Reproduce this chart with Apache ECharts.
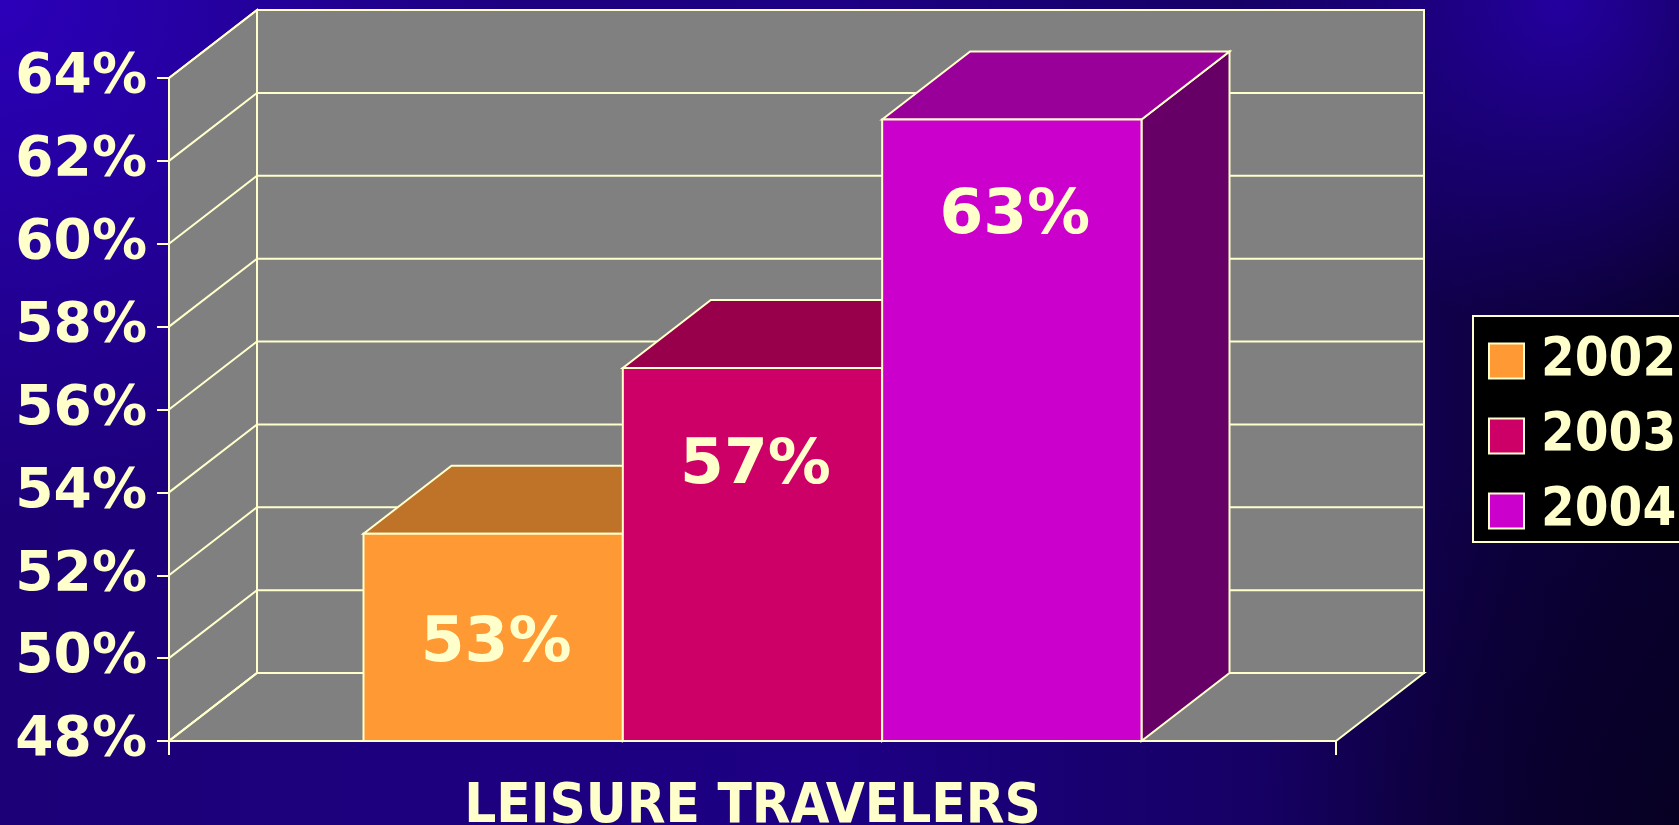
<!DOCTYPE html>
<html>
<head>
<meta charset="utf-8">
<script src="https://cdn.jsdelivr.net/npm/echarts@6/dist/echarts.min.js"></script>
<style>
html,body{margin:0;padding:0;width:1679px;height:825px;overflow:hidden;background:#1a0080;}
#chart{width:1679px;height:825px;}
</style>
</head>
<body>
<div id="chart"></div>
<script>
// ---- data ----
const categories = ['LEISURE TRAVELERS'];
const seriesNames = ['2002', '2003', '2004'];
const values2002 = [53];
const values2003 = [57];
const values2004 = [63];
const yTicks = [48, 50, 52, 54, 56, 58, 60, 62, 64];
const yMin = 48, yMax = 64, yStep = 2;

// ---- style ----
const CREAM = '#FFFFCC';
const GREY = '#808080';
const FRONT = ['#FF9933', '#CC0066', '#CC00CC'];
const TOP = ['#BF7328', '#99004C', '#990099'];
const SIDE = ['#804C1A', '#660033', '#660066'];
const LABEL_DY = [111, 99, 97];   // label offset below bar top (px)
const DX = 88, DY = -68;   // depth offset of the 3D box
const FONT = '"DejaVu Sans", Verdana, sans-serif';
const FONT_C = '"DejaVu Sans Condensed", "DejaVu Sans", sans-serif';
const lineStyle = { stroke: CREAM, lineWidth: 2 };

const seriesValues = [values2002, values2003, values2004];

function wallsRender(params, api) {
  const cs = params.coordSys;
  const x0 = cs.x, x1 = cs.x + cs.width;
  const yT = api.coord([0, yMax])[1];
  const yB = api.coord([0, yMin])[1];
  const fillStyle = Object.assign({ fill: GREY }, lineStyle);
  return {
    type: 'group',
    children: [
      { type: 'polygon', shape: { points: [[x0, yT], [x0 + DX, yT + DY], [x0 + DX, yB + DY], [x0, yB]] }, style: fillStyle },
      { type: 'polygon', shape: { points: [[x0 + DX, yT + DY], [x1 + DX, yT + DY], [x1 + DX, yB + DY], [x0 + DX, yB + DY]] }, style: fillStyle },
      { type: 'polygon', shape: { points: [[x0, yB], [x1, yB], [x1 + DX, yB + DY], [x0 + DX, yB + DY]] }, style: fillStyle }
    ]
  };
}

function gridRender(params, api) {
  const cs = params.coordSys;
  const x0 = cs.x, x1 = cs.x + cs.width;
  const y = api.coord([0, api.value(1)])[1];
  return {
    type: 'polyline',
    shape: { points: [[x0, y], [x0 + DX, y + DY], [x1 + DX, y + DY]] },
    style: Object.assign({ fill: null }, lineStyle)
  };
}

function makeBarRender(i) {
  return function (params, api) {
    const top = api.coord([api.value(0), api.value(1)]);
    const base = api.coord([api.value(0), yMin]);
    const band = api.size([1, 0])[0];
    const w = band / 4.5;
    const xl = top[0] - 1.5 * w + i * w;
    const xr = xl + w;
    const yt = top[1], yb = base[1];
    return {
      type: 'group',
      children: [
        { type: 'polygon', shape: { points: [[xr, yt], [xr + DX, yt + DY], [xr + DX, yb + DY], [xr, yb]] },
          style: Object.assign({ fill: SIDE[i] }, lineStyle) },
        { type: 'polygon', shape: { points: [[xl, yt], [xr, yt], [xr + DX, yt + DY], [xl + DX, yt + DY]] },
          style: Object.assign({ fill: TOP[i] }, lineStyle) },
        { type: 'rect', shape: { x: xl, y: yt, width: w, height: yb - yt },
          style: Object.assign({ fill: FRONT[i] }, lineStyle) },
        { type: 'text', style: { text: api.value(1) + '%', x: xl + w / 2 + 3, y: yt + LABEL_DY[i],
          align: 'center', verticalAlign: 'middle', fill: CREAM,
          fontSize: 63, fontWeight: 'bold', fontFamily: FONT } }
      ]
    };
  };
}

const series = [
  { name: 'walls', type: 'custom', renderItem: wallsRender, data: [[0, yMin]], z: 1, silent: true, clip: false },
  { name: 'gridlines', type: 'custom', renderItem: gridRender, data: yTicks.map(v => [0, v]), z: 2, silent: true, clip: false }
];
seriesNames.forEach((name, i) => {
  series.push({
    name: name, type: 'custom', renderItem: makeBarRender(i),
    data: seriesValues[i].map((v, k) => [k, v]),
    itemStyle: { color: FRONT[i] },
    z: 3 + i, clip: false
  });
});

const chart = echarts.init(document.getElementById('chart'));
chart.setOption({
  animation: false,
  backgroundColor: {
    type: 'linear', x: 0, y: 0, x2: 1, y2: 0,
    colorStops: [
      { offset: 0, color: '#1C0078' },
      { offset: 0.5, color: '#1D0084' },
      { offset: 0.78, color: '#150060' },
      { offset: 0.9, color: '#0E0040' },
      { offset: 1, color: '#0A0030' }
    ]
  },
  graphic: {
    elements: [
      { type: 'rect', z: -100, silent: true, shape: { x: 0, y: 0, width: 1679, height: 825 },
        style: { fill: { type: 'radial', x: 0, y: 0, r: 520, global: true,
          colorStops: [{ offset: 0, color: 'rgba(44,0,186,1)' }, { offset: 1, color: 'rgba(44,0,186,0)' }] } } },
      { type: 'rect', z: -100, silent: true, shape: { x: 0, y: 0, width: 1679, height: 825 },
        style: { fill: { type: 'radial', x: 1560, y: 0, r: 330, global: true,
          colorStops: [{ offset: 0, color: 'rgba(36,0,160,1)' }, { offset: 1, color: 'rgba(36,0,160,0)' }] } } },
      { type: 'rect', z: -100, silent: true, shape: { x: 0, y: 0, width: 1679, height: 825 },
        style: { fill: { type: 'radial', x: 1679, y: 825, r: 420, global: true,
          colorStops: [{ offset: 0, color: 'rgba(6,0,30,0.7)' }, { offset: 1, color: 'rgba(6,0,30,0)' }] } } }
    ]
  },
  grid: { left: 169, right: 343, top: 78, bottom: 84, containLabel: false, outerBoundsMode: 'none' },
  legend: {
    data: seriesNames,
    orient: 'vertical',
    left: 1473, top: 316,
    backgroundColor: '#000000',
    borderColor: CREAM, borderWidth: 2, borderRadius: 0,
    padding: [18, 30, 4, 15],
    itemWidth: 35, itemHeight: 35, itemGap: 21,
    icon: 'rect',
    itemStyle: { borderColor: CREAM, borderWidth: 2 },
    textStyle: { color: CREAM, fontSize: 54, fontWeight: 'bold', fontFamily: FONT_C, lineHeight: 35, padding: [0, 0, 0, 12] }
  },
  xAxis: {
    type: 'category', data: categories, z: 10,
    axisLine: { show: true, lineStyle: { color: CREAM, width: 2 } },
    axisTick: { show: true, length: 14, lineStyle: { color: CREAM, width: 2 } },
    axisLabel: { color: CREAM, fontSize: 56, fontWeight: 'bold', fontFamily: FONT_C, margin: 38 },
    splitLine: { show: false }
  },
  yAxis: {
    type: 'value', min: yMin, max: yMax, interval: yStep, z: 10,
    axisLine: { show: true, lineStyle: { color: CREAM, width: 2 } },
    axisTick: { show: true, length: 12, lineStyle: { color: CREAM, width: 2 } },
    axisLabel: { color: CREAM, fontSize: 55, fontWeight: 'bold', fontFamily: FONT, margin: 22,
      padding: [7, 0, 0, 0], formatter: '{value}%' },
    splitLine: { show: false }
  },
  series: series
});
</script>
</body>
</html>
